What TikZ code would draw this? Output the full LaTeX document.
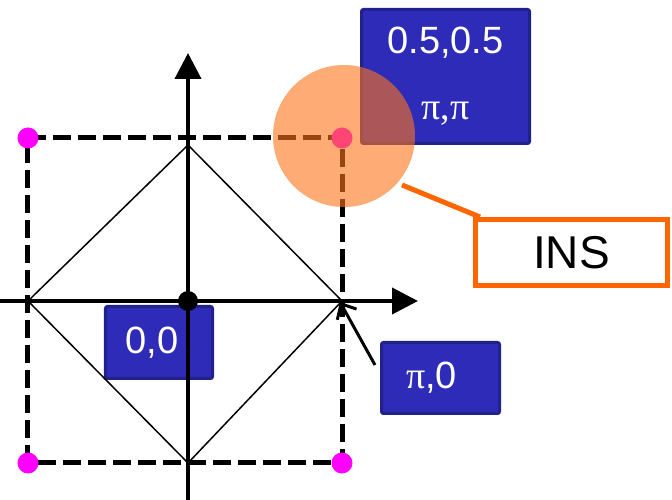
\documentclass[tikz,border=0pt]{standalone}
\usepackage{fontspec}
\setmainfont{Liberation Sans}
\newfontfamily\pifont{Liberation Serif}
\usepackage{xcolor}
\usetikzlibrary{arrows.meta, positioning}
\definecolor{boxblue}{RGB}{46,43,184}
\definecolor{boxedge}{RGB}{33,33,140}
\definecolor{insorange}{RGB}{255,102,0}
\definecolor{blobgold}{RGB}{255,115,25}
\definecolor{dotpink}{RGB}{255,0,255}
\tikzstyle{axis} = [line width=4pt,-{Triangle[length=26pt,width=26pt]}]
\tikzset{every node/.style={align=center}}

\begin{document}
\begin{tikzpicture}[
    x=1pt, y=1pt,
    kbox/.style={draw=boxedge, line width=3pt, fill=boxblue, rounded corners=2pt,
                 text=white, font=\fontsize{38}{66}\selectfont, inner sep=0pt},
    edgeline/.style={line width=5pt, dash pattern=on 18pt off 7pt},
    corner/.style={fill=dotpink}
]
  \useasboundingbox (-188,-199) rectangle (484,301);

  \coordinate (O)  at (0,0);
  \coordinate (SW) at (-160,-162);
  \coordinate (SE) at (154,-162);
  \coordinate (NE) at (154,163);
  \coordinate (NW) at (-160,163);

  \node (GG) at (-29,-41.5) [kbox, minimum width=107pt, minimum height=72pt] {0,0\hspace{14pt}};

  % axes
  \draw[axis] (-188,0) -- (230,0);
  \draw[axis] (0,-199) -- (0,248);

  % diamond
  \draw[line width=1.5pt] (-160,0) -- (0,156) -- (154,0) -- (0,-162) -- cycle;

  % dashed square and its corners
  \draw[edgeline] (SW) rectangle (NE);
  \foreach \c in {SW,SE,NE,NW}
      \fill[corner] (\c) circle (10.5pt);
  \fill (O) circle (10pt);

  % labels
  \node (MM) at (257.5,224.5) [kbox, minimum width=168pt, minimum height=134pt] {0.5,0.5\\{\pifont π,π}};
  \node (XX) at (252.5,-77)   [kbox, minimum width=118pt, minimum height=71pt]  {{\pifont π},0\hspace{18pt}};

  \draw[line width=3pt,-{Straight Barb[length=12pt,width=22pt]}] (187,-64) -- (152,-1);

  % INS region
  \node (blob) at (156,165) [circle, fill=blobgold, fill opacity=0.6, minimum size=142pt, inner sep=0pt] {};
  \node (INS)  at (383.5,48.5) [draw=insorange, line width=5pt, fill=white, minimum width=192pt,
                                minimum height=66pt, font=\fontsize{46}{50}\selectfont] {INS};
  \coordinate (ray) at (214,116);
  \draw[insorange, line width=5pt] (ray) -- ([xshift=7pt]INS.north west);
\end{tikzpicture}
\end{document}
